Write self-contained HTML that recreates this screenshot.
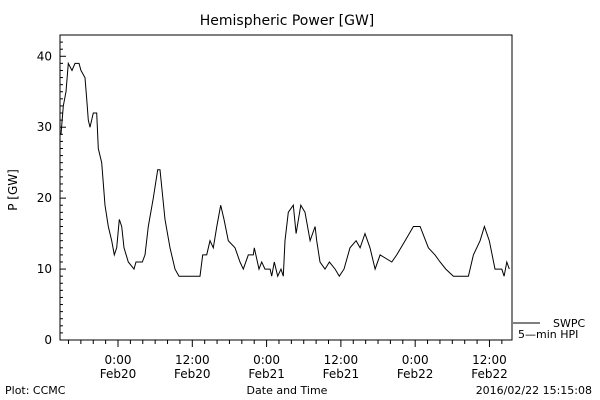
<!DOCTYPE html>
<html><head><meta charset="utf-8"><style>
body{margin:0;background:#fff}
svg{display:block;font-family:"DejaVu Sans","Liberation Sans",sans-serif}
text{fill:#000}
</style></head><body>
<svg id="chart" width="600" height="400" viewBox="0 0 600 400">
<rect width="600" height="400" fill="#fff"/>
<text x="287" y="25" font-size="14" text-anchor="middle">Hemispheric Power [GW]</text>
<text x="17" y="190" font-size="12" text-anchor="middle" transform="rotate(-90 17 190)">P [GW]</text>
<rect x="60" y="35" width="452" height="305" fill="none" stroke="#000" stroke-width="1"/>
<g id="axes"></g>
<path id="series" fill="none" stroke="#000" stroke-width="1"/>
<line x1="513" y1="323" x2="540" y2="323" stroke="#000"/>
<text x="553" y="327" font-size="11">SWPC</text>
<text x="518" y="338" font-size="11">5—min HPI</text>
<text x="287" y="394" font-size="11" text-anchor="middle">Date and Time</text>
<text x="5" y="394" font-size="11">Plot: CCMC</text>
<text x="592" y="394" font-size="11" text-anchor="end">2016/02/22 15:15:08</text>
</svg>
<script>
const hours=[-9.37,-9.21,-8.84,-8.40,-8.03,-7.43,-6.95,-6.30,-5.98,-5.33,-5.06,-4.80,-4.52,-3.99,-3.44,-3.18,-2.63,-2.10,-1.57,-1.02,-0.60,-0.21,0.21,0.60,0.97,1.66,2.58,2.91,3.93,4.36,4.89,5.70,6.41,6.79,7.59,8.40,9.21,9.85,13.25,13.68,14.33,14.86,15.40,15.95,16.59,17.12,17.82,18.90,19.71,20.24,21.05,21.86,22.02,22.78,23.21,23.75,24.56,24.83,25.25,25.80,26.33,26.70,26.98,27.51,28.32,28.76,29.52,30.21,31.02,31.83,32.10,32.63,33.44,34.14,35.06,35.75,36.51,37.48,38.45,39.10,39.90,40.71,41.52,42.33,44.22,45.02,46.37,47.71,48.79,50.13,51.21,52.02,52.94,54.17,56.59,57.40,58.48,59.18,59.98,60.90,61.99,62.36,62.80,63.21];
const power=[29,29,33,35,39,38,39,39,38,37,34,31,30,32,32,27,25,19,16,14,12,13,17,16,13,11,10,11,11,12,16,20,24,24,17,13,10,9,9,12,12,14,13,16,19,17,14,13,11,10,12,12,13,10,11,10,10,9,11,9,10,9,14,18,19,15,19,18,14,16,14,11,10,11,10,9,10,13,14,13,15,13,10,12,11,12,14,16,16,13,12,11,10,9,9,12,14,16,14,10,10,9,11,10];
const yTicks=[0,10,20,30,40];
const xTickHours=[0,12,24,36,48,60];
const xTickTimes=["0:00","12:00","0:00","12:00","0:00","12:00"];
const xTickDates=["Feb20","Feb20","Feb21","Feb21","Feb22","Feb22"];
const X0=60,X1=512,Y0=340,Y1=35,HMIN=-9.37,HMAX=63.64,VMIN=0,VMAX=43;
const sx=h=>X0+(h-HMIN)/(HMAX-HMIN)*(X1-X0);
const sy=v=>Y0-(v-VMIN)/(VMAX-VMIN)*(Y0-Y1);
const NS="http://www.w3.org/2000/svg";
const ax=document.getElementById('axes');
function mk(tag,attrs){const e=document.createElementNS(NS,tag);for(const k in attrs)e.setAttribute(k,attrs[k]);ax.appendChild(e);return e;}
let d="";
hours.forEach((h,i)=>{d+=(i?"L":"M")+sx(h).toFixed(1)+" "+sy(power[i]).toFixed(1);});
document.getElementById('series').setAttribute('d',d);
for(let v=1;v<VMAX;v++){
  const t=mk('line',{x1:X0,x2:X0+(v%10===0?6:3),y1:sy(v),y2:sy(v),stroke:'#000'});
  
  
}
yTicks.forEach(v=>{
  const t=mk('text',{x:X0-8,y:sy(v)+4,'font-size':12,'text-anchor':'end'});
  
  
  t.textContent=v;
});
for(let h=-8;h<=HMAX;h+=2){
  const major=(h%12===0);
  const t=mk('line',{x1:sx(h),x2:sx(h),y1:Y0,y2:Y0+(major?7:4),stroke:'#000'});
  
  
}
xTickHours.forEach((h,i)=>{
  const a=mk('text',{x:sx(h),y:364,'font-size':12,'text-anchor':'middle'});
  
  
  a.textContent=xTickTimes[i];
  const b=mk('text',{x:sx(h),y:378,'font-size':12,'text-anchor':'middle'});
  
  
  b.textContent=xTickDates[i];
});
</script>
</body></html>
